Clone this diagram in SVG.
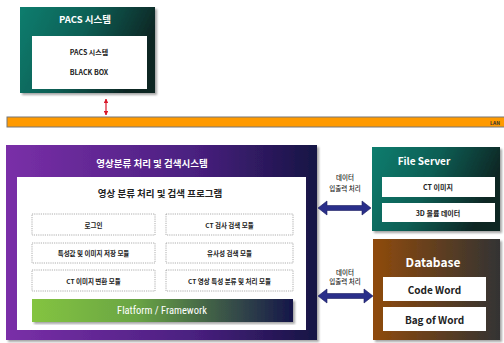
<svg xmlns="http://www.w3.org/2000/svg" width="504" height="343" viewBox="0 0 504 343">
<defs>
<linearGradient id="teal" x1="0" y1="0" x2="1" y2="0.3"><stop offset="0" stop-color="#0f7d6e"/><stop offset="0.5" stop-color="#0c5f55"/><stop offset="1" stop-color="#0b2523"/></linearGradient>
<linearGradient id="purple" x1="0" y1="0" x2="1" y2="0"><stop offset="0" stop-color="#7a2fa8"/><stop offset="0.6" stop-color="#4a2080"/><stop offset="1" stop-color="#161444"/></linearGradient>
<linearGradient id="brown" x1="0" y1="0" x2="1" y2="0"><stop offset="0" stop-color="#8f4a0c"/><stop offset="1" stop-color="#333"/></linearGradient>
<linearGradient id="green" x1="0" y1="0" x2="1" y2="0"><stop offset="0" stop-color="#84c441"/><stop offset="0.4" stop-color="#6aa544"/><stop offset="1" stop-color="#15164a"/></linearGradient>
<filter id="sh" x="-5%" y="-5%" width="115%" height="115%"><feDropShadow dx="2" dy="2" stdDeviation="1.2" flood-color="#000" flood-opacity="0.35"/></filter>
<marker id="rh" viewBox="0 0 10 10" refX="9" refY="5" markerWidth="4" markerHeight="4" orient="auto-start-reverse"><path d="M0,0 L10,5 L0,10 z" fill="#d9182a"/></marker>
</defs>
<style>
text{font-family:"Noto Sans CJK KR","Noto Sans",sans-serif;font-weight:bold;text-anchor:middle;dominant-baseline:central}
.w{fill:#fff}
.k{fill:#222}
.n{font-weight:500}
.fw{font-family:"Roboto","Noto Sans",sans-serif;font-weight:normal;font-stretch:condensed}
.mod{fill:#fff;stroke:#9a9a9a;stroke-width:0.8;stroke-dasharray:1.2 1}
.ib{fill:#fff}
.da{fill:#2a2f8a;stroke:#1a1c60;stroke-width:0.6}
</style>
<g id="pacs">
<rect x="20" y="7" width="135" height="86" fill="url(#teal)" filter="url(#sh)"/>
<text class="w" x="85" y="19" font-size="9.5">PACS 시스템</text>
<rect class="ib" x="32" y="36" width="115" height="53"/>
<text class="k" x="89" y="52" font-size="7">PACS 시스템</text>
<text class="k" x="89" y="72" font-size="7">BLACK BOX</text>
</g>
<g id="lan">
<rect x="7" y="117" width="500" height="10" fill="#ff9a00" stroke="#777" stroke-width="1"/>
<text x="495" y="122.5" font-size="5" fill="#333">LAN</text>
</g>
<g id="main">
<rect x="6" y="145" width="311" height="195" fill="url(#purple)" filter="url(#sh)"/>
<text class="w" x="152" y="163" font-size="9.5">영상분류 처리 및 검색시스템</text>
<rect class="ib" x="17" y="177" width="289" height="153"/>
<text class="k" x="160" y="193" font-size="9.5">영상 분류 처리 및 검색 프로그램</text>
<g id="m1"><rect class="mod" x="32" y="214" width="123" height="21"/><text class="k" x="93.5" y="224.5" font-size="6.5">로그인</text></g>
<g id="m2"><rect class="mod" x="166" y="214" width="127" height="21"/><text class="k" x="229.5" y="224.5" font-size="6.5">CT 검사 검색 모듈</text></g>
<g id="m3"><rect class="mod" x="32" y="243" width="123" height="20"/><text class="k" x="93.5" y="253" font-size="6.5">특성값 및 이미지 저장 모듈</text></g>
<g id="m4"><rect class="mod" x="166" y="243" width="127" height="20"/><text class="k" x="229.5" y="253" font-size="6.5">유사성 검색 모듈</text></g>
<g id="m5"><rect class="mod" x="32" y="270" width="123" height="21"/><text class="k" x="93.5" y="280.5" font-size="6.5">CT 이미지 변환 모듈</text></g>
<g id="m6"><rect class="mod" x="166" y="270" width="127" height="21"/><text class="k" x="229.5" y="280.5" font-size="6.5">CT 영상 특성 분류 및 처리 모듈</text></g>
<g id="fw"><rect x="32" y="299" width="261" height="23" fill="url(#green)" filter="url(#sh)"/><text class="w fw" x="162" y="310.5" font-size="10.5">Flatform / Framework</text></g>
</g>
<g id="fileserver">
<rect x="372" y="147" width="128" height="84" fill="url(#teal)" filter="url(#sh)"/>
<text class="w" x="424" y="160" font-size="10">File Server</text>
<rect class="ib" x="382" y="177" width="113" height="20"/>
<text class="k" x="438" y="187" font-size="7">CT 이미지</text>
<rect class="ib" x="382" y="203" width="113" height="19"/>
<text class="k" x="438" y="212.5" font-size="7">3D 볼륨 데이터</text>
</g>
<g id="database">
<rect x="373" y="239" width="127" height="101" fill="url(#brown)" filter="url(#sh)"/>
<text class="w" x="433" y="261" font-size="12">Database</text>
<rect class="ib" x="383" y="277" width="103" height="24"/>
<text class="k" x="434.5" y="289" font-size="10">Code Word</text>
<rect class="ib" x="383" y="307" width="103" height="24"/>
<text class="k" x="434.5" y="319" font-size="10">Bag of Word</text>
</g>
<g id="connectors">
<line x1="106" y1="99" x2="106" y2="115" stroke="#d9182a" stroke-width="1.2" marker-start="url(#rh)" marker-end="url(#rh)"/>
<path class="da" d="M318,208 L327,201 L327,205.5 L362,205.5 L362,201 L371,208 L362,215 L362,210.5 L327,210.5 L327,215 Z"/>
<path class="da" d="M318,296 L327,289 L327,293.5 L364,293.5 L364,289 L373,296 L364,303 L364,298.5 L327,298.5 L327,303 Z"/>
<text class="k n" x="345" y="177" font-size="6.5">데이터</text>
<text class="k n" x="345" y="188" font-size="6.5">입출력 처리</text>
<text class="k n" x="345" y="272" font-size="6.5">데이터</text>
<text class="k n" x="345" y="281" font-size="6.5">입출력 처리</text>
</g>
</svg>
